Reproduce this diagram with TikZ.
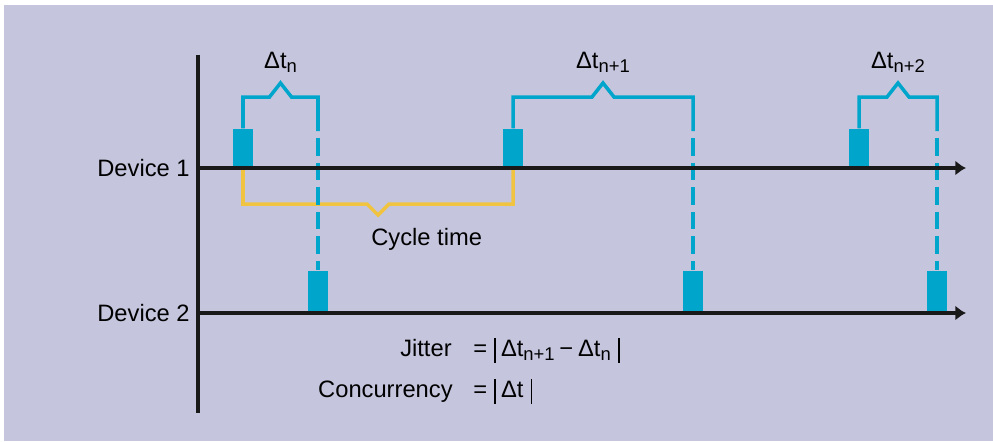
\documentclass[tikz,border=0pt]{standalone}
\usepackage{fontspec}
\setmainfont{Liberation Sans}
\usetikzlibrary{arrows.meta,positioning,calc}
\definecolor{bgpanel}{RGB}{197,198,222}
\definecolor{pulseblue}{RGB}{0,165,204}
\definecolor{cycleyellow}{RGB}{240,196,64}
\newcommand{\sub}[1]{\raisebox{-0.35ex}{\fontsize{10.5}{11}\selectfont #1}}
\newcommand{\vbar}{\rule[-0.28em]{1.1pt}{1.05em}}

\begin{document}
\begin{tikzpicture}[x=0.02cm, y=-0.02cm, font=\fontsize{13.5}{16}\selectfont,
  axis/.style={line width=2pt, black!90},
  pulse/.style={fill=pulseblue, inner sep=0pt, minimum width=0.4cm, minimum height=#1},
  pulse/.default=0.8cm,
  bracket/.style={line width=2pt, pulseblue},
  cyclebr/.style={line width=2pt, cycleyellow},
  lbl/.style={inner sep=0pt}
]
  \fill[bgpanel] (4,5) rectangle (993,441);
  \useasboundingbox (0,0) rectangle (993,441);

  % axes and guide heights
  \coordinate (top) at (198,55);
  \coordinate (bot) at (198,413);
  \coordinate (d1) at (197,168);
  \coordinate (d2) at (197,313);
  \coordinate (d1end) at (966,168);
  \coordinate (d2end) at (966,313);
  \coordinate (brk) at (0,97);
  \coordinate (dsh) at (0,131);
  \coordinate (cyc) at (0,204);

  % pulses of device 1 and device 2
  \node[pulse=0.78cm, anchor=south] (a1) at (243,168) {};
  \node[pulse=0.78cm, anchor=south] (a2) at (513,168) {};
  \node[pulse=0.78cm, anchor=south] (a3) at (859,168) {};
  \node[pulse=0.84cm, anchor=south] (b1) at (318,313) {};
  \node[pulse=0.84cm, anchor=south] (b2) at (693,313) {};
  \node[pulse=0.84cm, anchor=south] (b3) at (937,313) {};

  % cycle time
  \coordinate (cyctip) at ($(a1 |- cyc)!0.5!(a2 |- cyc)+(0,11)$);
  \draw[cyclebr] (a1.south) -- (a1 |- cyc) -- ($(cyctip)+(-11,-11)$) -- (cyctip)
    -- ($(cyctip)+(11,-11)$) -- (a2 |- cyc) -- (a2.south);
  \node[lbl, anchor=base west] (cycle) at (371,245) {Cycle time};

  % delta t brackets
  \foreach \a/\b/\s in {a1/b1/n, a2/b2/n+1, a3/b3/n+2} {
    \coordinate (tip\a) at ($(\a |- brk)!0.5!(\b |- brk)+(0,-14)$);
    \draw[bracket] (\a.north) -- (\a |- brk) -- ($(tip\a)+(-11,14)$) -- (tip\a)
      -- ($(tip\a)+(11,14)$) -- (\b |- brk) -- (\b |- dsh);
    \draw[bracket, dash pattern=on 10pt off 4pt, dash phase=10pt] (\b |- dsh) -- (\b.north);
    \node[lbl, anchor=base] (dt\a) at ($(tip\a)+(0,-15)$) {Δt\sub{\s}};
  }

  % axes
  \draw[axis] (top) -- (bot);
  \draw[axis, -{Latex[length=6pt,width=8.5pt]}] (d1) -- (d1end);
  \draw[axis, -{Latex[length=6pt,width=8.5pt]}] (d2) -- (d2end);
  \node[lbl, anchor=base east] (dev1) at (190,176) {Device 1};
  \node[lbl, anchor=base east] (dev2) at (190,321) {Device 2};

  % definitions
  \node[lbl, anchor=base east] (jit) at (452,356) {Jitter};
  \node[lbl, anchor=base west] (jiteq) at (473,356)
    {=\hspace{0.3em}\vbar\hspace{0.2em}Δt\sub{n+1}\hspace{0.2em}−\hspace{0.2em}Δt\sub{n}\hspace{0.3em}\vbar};
  \node[lbl, anchor=base east] (conc) at (453,397) {Concurrency};
  \node[lbl, anchor=base west] (conceq) at (473,397)
    {=\hspace{0.3em}\vbar\hspace{0.2em}Δt\hspace{0.3em}\vbar};
\end{tikzpicture}
\end{document}
